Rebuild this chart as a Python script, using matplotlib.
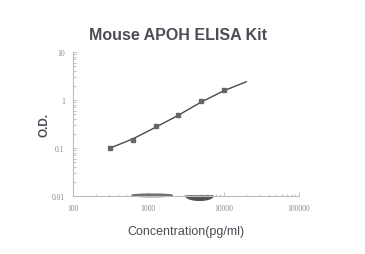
import numpy as np
import matplotlib
matplotlib.use("Agg")
import matplotlib.pyplot as plt
from matplotlib.patches import Ellipse, Polygon
from matplotlib.ticker import LogLocator, FixedFormatter, FixedLocator, NullFormatter

# standard points
conc = [312.5, 625, 1250, 2500, 5000, 10000]
od = [0.10, 0.15, 0.29, 0.48, 0.94, 1.58]

# fitted curve
fit_conc = [312.5, 625, 1250, 2500, 5000, 10000, 20000]
fit_od = [0.10, 0.155, 0.27, 0.48, 0.90, 1.55, 2.4]

x_ticks = [100, 1000, 10000, 100000]
x_labels = ["100", "1000", "10000", "100000"]
y_ticks = [0.01, 0.1, 1, 10]
y_labels = ["0.01", "0.1", "1", "10"]

TEXT = "#4c4c56"
AXIS = "#bcbcbc"

fig = plt.figure(figsize=(3.65, 2.55), dpi=100)
ax = fig.add_axes([0.2, 0.2275, 0.619, 0.5647])

ax.plot(fit_conc, fit_od, color="#4a4a4a", lw=1.0, zorder=3)
ax.plot(conc, od, ls="none", marker="s", ms=2.2, color="#666666", zorder=4)

ax.set_xscale("log")
ax.set_yscale("log")
ax.set_xlim(100, 100000)
ax.set_ylim(0.01, 10)

ax.xaxis.set_major_locator(FixedLocator(x_ticks))
ax.xaxis.set_major_formatter(FixedFormatter(x_labels))
ax.yaxis.set_major_locator(FixedLocator(y_ticks))
ax.yaxis.set_major_formatter(FixedFormatter(y_labels))
ax.xaxis.set_minor_locator(LogLocator(base=10, subs=np.arange(2, 10)))
ax.yaxis.set_minor_locator(LogLocator(base=10, subs=np.arange(2, 10)))
ax.xaxis.set_minor_formatter(NullFormatter())
ax.yaxis.set_minor_formatter(NullFormatter())

for s in ["top", "right"]:
    ax.spines[s].set_visible(False)
for s in ["left", "bottom"]:
    ax.spines[s].set_color(AXIS)
    ax.spines[s].set_linewidth(0.8)

ax.tick_params(which="both", direction="in", color=AXIS, width=0.6)
ax.tick_params(which="major", length=3, labelsize=5.5, labelcolor="#8a8a8a", pad=6)
ax.tick_params(which="minor", length=1.8)
for lab in ax.get_xticklabels() + ax.get_yticklabels():
    lab.set_fontfamily("Liberation Serif")

ax.set_title("Mouse APOH ELISA Kit", fontsize=11.5, fontweight="bold",
             color=TEXT, family="Liberation Sans", pad=9, x=0.465)
ax.set_ylabel("O.D.", fontsize=8.5, fontweight="bold", color=TEXT,
              family="Liberation Sans", labelpad=1)
ax.set_xlabel("Concentration(pg/ml)", fontsize=9, color=TEXT,
              family="Liberation Sans", labelpad=9)

# scan smudges on the x axis
ax.add_patch(Ellipse((0.35, 0.004), 0.18, 0.018, transform=ax.transAxes,
                     color="#707070", clip_on=False, zorder=2))
t = np.linspace(np.pi, 2 * np.pi, 30)
half = np.column_stack([0.56 + 0.06 * np.cos(t), 0.03 * np.sin(t)])
ax.add_patch(Polygon(half, closed=True, transform=ax.transAxes,
                     color="#505050", clip_on=False, zorder=2))

fig.savefig("out.png", dpi=100)
